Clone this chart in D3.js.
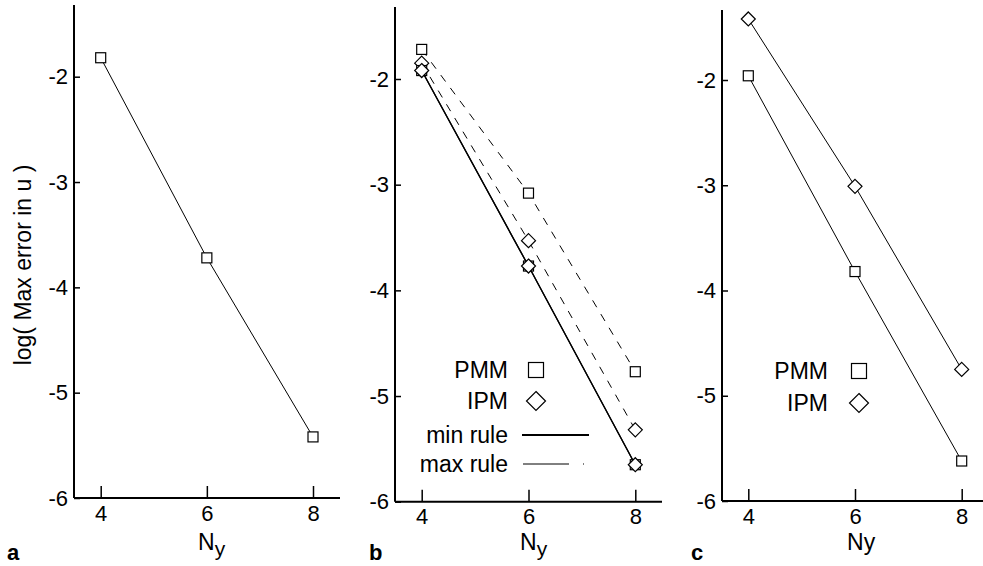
<!DOCTYPE html>
<html>
<head>
<meta charset="utf-8">
<script src="https://cdn.jsdelivr.net/npm/d3@7"></script>
<style>
  body { margin: 0; background: #fff; }
  svg { display: block; font-family: "Liberation Sans", Arial, Helvetica, sans-serif; }
</style>
</head>
<body>
<svg id="fig" width="983" height="566"></svg>
<script>
// data
var nyValues = [4, 6, 8];
var xTicks = [4, 6, 8];
var yTicks = [-2, -3, -4, -5, -6];

var errA = [-1.82, -3.72, -5.42];

var pmmMaxB = [-1.72, -3.08, -4.77];
var ipmMaxB = [-1.85, -3.53, -5.32];
var pmmMinB = [-1.92, -3.77, -5.65];
var ipmMinB = [-1.92, -3.77, -5.65];

var pmmC = [-1.96, -3.82, -5.62];
var ipmC = [-1.42, -3.01, -4.75];

// # panel layout (pixels)
var panels = [
    {name: 'a', axisX: 74,  yTop: 5,  y2: 76.7, y6: 498,   x4: 100.7, x8: 313,   xRight: 340, label: 'a', labelX: 7},
    {name: 'b', axisX: 395, yTop: 7,  y2: 79,   y6: 501.7, x4: 421.7, x8: 635.3, xRight: 662, label: 'b', labelX: 369},
    {name: 'c', axisX: 722, yTop: 10, y2: 80,   y6: 501,   x4: 748.3, x8: 961.7, xRight: 983, label: 'c', labelX: 691}
];

var FS = 22;   // tick labels
var FL = 23;   // legend and titles
var svg = d3.select('#fig');

function square(g, x, y, s){
    g.append('rect')
        .attr('x', x - s / 2).attr('y', y - s / 2)
        .attr('width', s).attr('height', s)
        .attr('fill', 'white').attr('stroke', 'black').attr('stroke-width', 1.2);
}

function diamond(g, x, y, r){
    g.append('path')
        .attr('d', 'M' + x + ',' + (y - r) + 'L' + (x + r) + ',' + y + 'L' + x + ',' + (y + r) + 'L' + (x - r) + ',' + y + 'Z')
        .attr('fill', 'white').attr('stroke', 'black').attr('stroke-width', 1.2);
}

function makePanel(p){
    var g = svg.append('g');
    var x = d3.scaleLinear().domain([4, 8]).range([p.x4, p.x8]);
    var y = d3.scaleLinear().domain([-2, -6]).range([p.y2, p.y6]);

    // axis lines
    g.append('line').attr('x1', p.axisX).attr('x2', p.axisX)
        .attr('y1', p.yTop).attr('y2', p.y6)
        .attr('stroke', 'black').attr('stroke-width', 2);
    g.append('line').attr('x1', p.axisX).attr('x2', p.xRight)
        .attr('y1', p.y6).attr('y2', p.y6)
        .attr('stroke', 'black').attr('stroke-width', 2);

    var ya = g.append('g').attr('transform', 'translate(' + p.axisX + ',0)')
        .call(d3.axisLeft(y).tickValues(yTicks).tickSize(-6).tickPadding(6)
            .tickFormat(function(d){ return '-' + Math.abs(d); }));
    var xa = g.append('g').attr('transform', 'translate(0,' + p.y6 + ')')
        .call(d3.axisBottom(x).tickValues(xTicks).tickSize(-12).tickPadding(7)
            .tickFormat(d3.format('d')));

    [ya, xa].forEach(function(a){
        a.attr('font-size', FS).attr('font-family', null);
        a.select('.domain').remove();
        a.selectAll('line').attr('stroke', 'black').attr('stroke-width', 1.5);
        a.selectAll('text').attr('fill', 'black');
    });

    // panel letter
    g.append('text').attr('x', p.labelX).attr('y', 560)
        .attr('font-size', 22).attr('font-weight', 'bold').text(p.label);

    return {g: g, x: x, y: y};
}

function series(P, vals, dashed, marker, width){
    var line = d3.line().x(function(d, i){ return P.x(nyValues[i]); })
        .y(function(d){ return P.y(d); });
    P.g.append('path').datum(vals)
        .attr('d', line)
        .attr('fill', 'none').attr('stroke', 'black')
        .attr('stroke-width', width || 1)
        .attr('stroke-dasharray', dashed ? '8,8' : null);
    vals.forEach(function(v, i){
        if (marker == 'sq') square(P.g, P.x(nyValues[i]), P.y(v), 10);
        else diamond(P.g, P.x(nyValues[i]), P.y(v), 7);
    });
}

function nyLabel(g, cx, sub){
    var t = g.append('text').attr('x', cx).attr('y', 550).attr('font-size', FL);
    t.append('tspan').text('N');
    if (sub) {
        t.append('tspan').attr('dy', 6).attr('font-size', 21).text('y');
    } else {
        t.append('tspan').text('y');
    }
}

// # panel a
var A = makePanel(panels[0]);
series(A, errA, false, 'sq');
nyLabel(A.g, 198, true);
A.g.append('text')
    .attr('transform', 'translate(31,265) rotate(-90)')
    .attr('text-anchor', 'middle').attr('font-size', FL)
    .text('log( Max error in u )');

// # panel b
var B = makePanel(panels[1]);
series(B, pmmMaxB, true, 'sq');
series(B, ipmMaxB, true, 'dm');
series(B, pmmMinB, false, 'sq', 1.3);
series(B, ipmMinB, false, 'dm', 1.3);
nyLabel(B.g, 520, true);

var legB = B.g.append('g');
var legRowsB = [
    {text: 'PMM', y: 370, kind: 'sq'},
    {text: 'IPM', y: 401, kind: 'dm'},
    {text: 'min rule', y: 435, kind: 'solid'},
    {text: 'max rule', y: 464, kind: 'dash'}
];
legRowsB.forEach(function(r){
    legB.append('text').attr('x', 508).attr('y', r.y).attr('dy', '0.35em')
        .attr('text-anchor', 'end').attr('font-size', FL).text(r.text);
    if (r.kind == 'sq') square(legB, 536, r.y, 15);
    if (r.kind == 'dm') diamond(legB, 536, r.y, 9.5);
    if (r.kind == 'solid') legB.append('line').attr('x1', 522).attr('x2', 589)
        .attr('y1', r.y).attr('y2', r.y).attr('stroke', 'black').attr('stroke-width', 2);
    if (r.kind == 'dash') legB.append('line').attr('x1', 523).attr('x2', 584)
        .attr('y1', r.y).attr('y2', r.y).attr('stroke', 'black').attr('stroke-width', 1)
        .attr('stroke-dasharray', '46,14,1,20');
});

// # panel c
var C = makePanel(panels[2]);
series(C, pmmC, false, 'sq');
series(C, ipmC, false, 'dm');
nyLabel(C.g, 847, false);

var legC = C.g.append('g');
[{text: 'PMM', y: 371, kind: 'sq'}, {text: 'IPM', y: 403, kind: 'dm'}].forEach(function(r){
    legC.append('text').attr('x', 828).attr('y', r.y).attr('dy', '0.35em')
        .attr('text-anchor', 'end').attr('font-size', FL).text(r.text);
    if (r.kind == 'sq') square(legC, 859, r.y, 15);
    else diamond(legC, 859, r.y, 9.5);
});
</script>
</body>
</html>
